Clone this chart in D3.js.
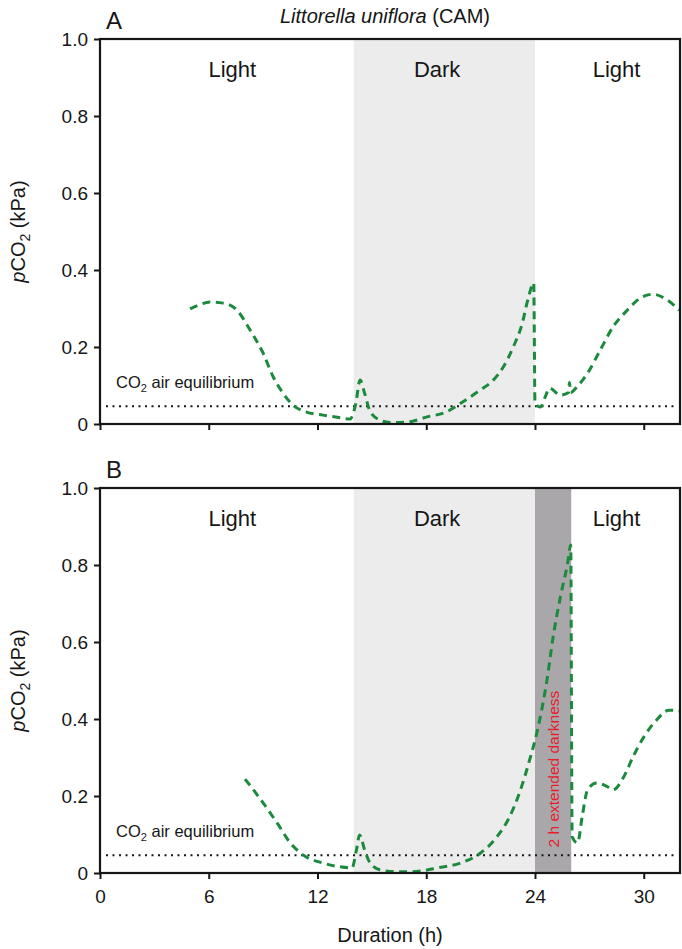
<!DOCTYPE html>
<html><head><meta charset="utf-8">
<script src="https://cdn.jsdelivr.net/npm/d3@7"></script>
<style>body{margin:0;background:#fff}svg{display:block}text{font-family:"Liberation Sans",Arial,sans-serif}</style>
</head><body>
<svg id="c" width="682" height="949"></svg>
<script>
const xTicks = [0, 6, 12, 18, 24, 30];
const yTicks = [0, 0.2, 0.4, 0.6, 0.8, 1.0];
const equilibrium = 0.046;
const darkPeriod = [14, 24];
const extendedDark = [24, 26];

const aX = [4.97, 5.5, 6.07, 6.8, 7.55, 8.28, 9.0, 9.56, 10.1, 10.65, 11.4, 12.3, 13.0, 13.8, 14.1, 14.35, 14.6, 14.9, 15.45, 16.0, 16.55, 17.3, 18.0, 19.1, 19.9, 20.97, 21.7, 22.25, 22.8, 23.3, 23.6, 23.93, 24.0, 24.3, 24.56, 24.8, 25.4, 25.85, 25.9, 25.97, 26.3, 26.9, 27.6, 28.3, 29.1, 29.8, 30.5, 31.3, 31.95];
const aY = [0.299, 0.31, 0.317, 0.314, 0.296, 0.244, 0.184, 0.122, 0.08, 0.049, 0.031, 0.023, 0.018, 0.013, 0.05, 0.114, 0.08, 0.033, 0.01, 0.004, 0.004, 0.008, 0.018, 0.031, 0.054, 0.088, 0.114, 0.148, 0.2, 0.262, 0.322, 0.366, 0.054, 0.044, 0.07, 0.093, 0.075, 0.082, 0.108, 0.082, 0.096, 0.132, 0.192, 0.252, 0.296, 0.327, 0.337, 0.322, 0.296];

const bX = [8.0, 8.5, 9.0, 9.77, 10.5, 11.2, 12.3, 13.25, 13.9, 14.15, 14.32, 14.6, 14.9, 15.45, 16.0, 16.9, 17.8, 18.6, 19.9, 21.0, 21.9, 22.6, 23.2, 23.7, 24.1, 24.66, 25.0, 25.4, 25.8, 25.97, 26.05, 26.35, 26.6, 26.9, 27.4, 28.0, 28.3, 28.9, 29.4, 30.0, 30.7, 31.4, 31.95];
const bY = [0.244, 0.214, 0.182, 0.13, 0.078, 0.047, 0.026, 0.016, 0.013, 0.06, 0.099, 0.06, 0.026, 0.008, 0.004, 0.003, 0.006, 0.013, 0.026, 0.052, 0.094, 0.146, 0.216, 0.293, 0.364, 0.501, 0.613, 0.717, 0.805, 0.852, 0.094, 0.078, 0.146, 0.216, 0.234, 0.224, 0.216, 0.25, 0.301, 0.353, 0.397, 0.423, 0.421];

const svg = d3.select("#c");
const x = d3.scaleLinear().domain([0, 32]).range([100, 680]);
const green = "#1b8a3c";
const ink = "#161616";

function panel(top, bottom, xs, ys, label, showXLabels, extended) {
  const y = d3.scaleLinear().domain([0, 1]).range([bottom, top]);
  const g = svg.append("g");
  g.append("rect").attr("x", x(darkPeriod[0])).attr("y", top).attr("width", x(darkPeriod[1]) - x(darkPeriod[0])).attr("height", bottom - top).attr("fill", "#ececec");
  if (extended) {
    g.append("rect").attr("x", x(extendedDark[0])).attr("y", top).attr("width", x(extendedDark[1]) - x(extendedDark[0])).attr("height", bottom - top).attr("fill", "#a9a7aa");
  }
  g.append("line").attr("x1", x(0) + 6).attr("x2", x(32) - 3).attr("y1", y(equilibrium)).attr("y2", y(equilibrium))
    .attr("stroke", ink).attr("stroke-width", 2).attr("stroke-dasharray", "2,4.5");
  g.append("text").attr("x", 116).attr("y", y(equilibrium) - 18).attr("font-size", 16.5).attr("fill", ink)
    .call(t => { t.append("tspan").text("CO"); t.append("tspan").attr("font-size", 11).attr("dy", 4).text("2"); t.append("tspan").attr("dy", -4).text(" air equilibrium"); });
  const pts = xs.map((v, i) => [v, ys[i]]);
  g.append("path").datum(pts).attr("fill", "none").attr("stroke", green).attr("stroke-width", 3)
    .attr("stroke-dasharray", "8,5.5")
    .attr("d", d3.line().x(d => x(d[0])).y(d => y(d[1])).curve(d3.curveMonotoneX));
  const ly = top + 38;
  [["Light", 7.3], ["Dark", 18.6], ["Light", 28.5]].forEach(([t, h]) => {
    g.append("text").attr("x", x(h)).attr("y", ly).attr("text-anchor", "middle").attr("font-size", 22).attr("fill", ink).text(t);
  });
  if (extended) {
    g.append("text").attr("transform", `translate(${x(25) + 6},${y(0.27)}) rotate(-90)`).attr("text-anchor", "middle")
      .attr("font-size", 15.5).attr("fill", "#e5202a").text("2 h extended darkness");
  }
  g.append("rect").attr("x", x(0)).attr("y", top).attr("width", x(32) - x(0)).attr("height", bottom - top)
    .attr("fill", "none").attr("stroke", ink).attr("stroke-width", 2.2);
  const ya = g.append("g").attr("transform", `translate(${x(0)},0)`)
    .call(d3.axisLeft(y).tickValues(yTicks).tickSize(6).tickPadding(6).tickFormat(d => d === 0 ? "0" : d3.format(".1f")(d)));
  ya.select(".domain").remove();
  ya.selectAll("line").attr("stroke", ink).attr("stroke-width", 2);
  ya.selectAll("text").attr("font-size", 19).attr("fill", ink).style("font-family", "Liberation Sans, Arial, sans-serif");
  const xa = g.append("g").attr("transform", `translate(0,${bottom})`)
    .call(d3.axisBottom(x).tickValues(xTicks).tickSize(6).tickPadding(11).tickFormat(showXLabels ? d3.format("d") : () => ""));
  xa.select(".domain").remove();
  xa.selectAll("line").attr("stroke", ink).attr("stroke-width", 2);
  xa.selectAll("text").attr("font-size", 19).attr("fill", ink).style("font-family", "Liberation Sans, Arial, sans-serif");
  g.append("text").attr("x", 106).attr("y", top - 10).attr("font-size", 24).attr("fill", ink).text(label);
  g.append("text").attr("transform", `translate(25,${(top + bottom) / 2}) rotate(-90)`).attr("text-anchor", "middle")
    .attr("font-size", 20).attr("fill", ink)
    .call(t => { t.append("tspan").attr("font-style", "italic").text("p"); t.append("tspan").text("CO"); t.append("tspan").attr("font-size", 14).attr("dy", 5).text("2"); t.append("tspan").attr("dy", -5).text(" (kPa)"); });
}

panel(39, 424, aX, aY, "A", false, false);
panel(488, 873, bX, bY, "B", true, true);

svg.append("text").attr("x", 385).attr("y", 23).attr("text-anchor", "middle").attr("font-size", 20).attr("fill", ink)
  .call(t => { t.append("tspan").attr("font-style", "italic").text("Littorella uniflora"); t.append("tspan").text(" (CAM)"); });
svg.append("text").attr("x", 390).attr("y", 942).attr("text-anchor", "middle").attr("font-size", 20).attr("fill", ink).text("Duration (h)");
</script>
</body></html>
